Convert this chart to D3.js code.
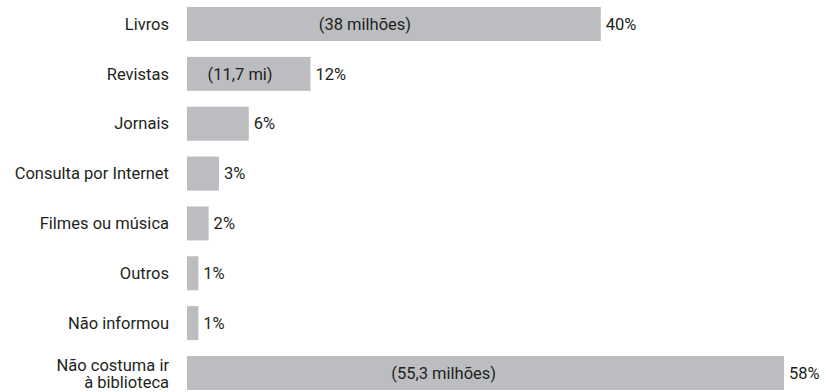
<!DOCTYPE html>
<html>
<head>
<meta charset="utf-8">
<script src="https://cdn.jsdelivr.net/npm/d3@7"></script>
<style>
  html, body { margin: 0; padding: 0; background: #ffffff; }
  svg { display: block; }
  text { font-family: Roboto, "DejaVu Sans Condensed", sans-serif; fill: #231f20; }
</style>
</head>
<body>
<svg id="chart" width="826" height="392"></svg>
<script>
const categories = [
  ["Livros"],
  ["Revistas"],
  ["Jornais"],
  ["Consulta por Internet"],
  ["Filmes ou música"],
  ["Outros"],
  ["Não informou"],
  ["Não costuma ir", "à biblioteca"]
];
const values = [40.2, 12, 6, 3.1, 2.1, 1.1, 1.1, 58];
const valueLabels = ["40%", "12%", "6%", "3%", "2%", "1%", "1%", "58%"];
const notes = ["(38 milhões)", "(11,7 mi)", "", "", "", "", "", "(55,3 milhões)"];

const rows = categories.map((c, i) => ({ id: i, lines: c, value: values[i], label: valueLabels[i], note: notes[i] }));

const svg = d3.select("#chart");
const fontSize = 16.5;

const x = d3.scaleLinear().domain([0, 58]).range([187, 784]);
const y = d3.scaleBand().domain(rows.map(d => d.id)).range([7, 390]).paddingInner(0.318).paddingOuter(0);

const g = svg.append("g");

g.selectAll("rect.bar").data(rows).join("rect")
  .attr("class", "bar")
  .attr("x", x(0))
  .attr("y", d => y(d.id))
  .attr("width", d => x(d.value) - x(0))
  .attr("height", y.bandwidth())
  .attr("fill", "#bcbdc0");

// category labels
const cat = g.selectAll("text.cat").data(rows).join("text")
  .attr("class", "cat")
  .attr("text-anchor", "end")
  .attr("font-size", fontSize)
  .attr("x", x(0) - 18)
  .attr("y", d => y(d.id) + y.bandwidth() / 2);
cat.selectAll("tspan").data(d => d.lines.map((t, k) => ({ t, k, n: d.lines.length }))).join("tspan")
  .attr("x", x(0) - 18)
  .attr("dy", d => d.k === 0 ? (0.35 - (d.n - 1) * 0.5) + "em" : "1.08em")
  .text(d => d.t);

// value labels
g.selectAll("text.val").data(rows).join("text")
  .attr("class", "val")
  .attr("font-size", fontSize)
  .attr("x", d => x(d.value) + 5)
  .attr("y", d => y(d.id) + y.bandwidth() / 2)
  .attr("dy", "0.35em")
  .text(d => d.label);

// notes inside bars
g.selectAll("text.note").data(rows.filter(d => d.note)).join("text")
  .attr("class", "note")
  .attr("font-size", fontSize)
  .attr("text-anchor", "middle")
  .attr("x", d => x(d.value * 0.43))
  .attr("y", d => y(d.id) + y.bandwidth() / 2)
  .attr("dy", "0.35em")
  .text(d => d.note);
</script>
</body>
</html>
